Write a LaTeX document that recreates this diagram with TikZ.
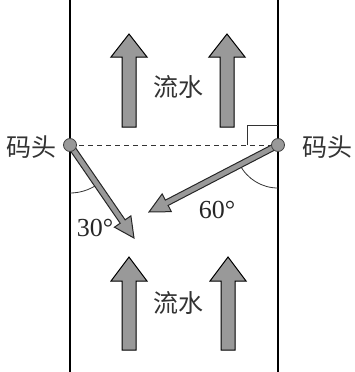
\documentclass[tikz,border=0pt]{standalone}
\usepackage{fontspec}
\setmainfont{Liberation Serif}
\newfontfamily\cjk{Noto Sans CJK SC}
\usetikzlibrary{calc}
\tikzset{
  bank/.style={line width=1.8pt, black},
  dock/.style={circle, draw=black!75, fill=black!40, line width=0.8pt, minimum size=13pt, inner sep=0pt},
  flowarrow/.style={fill=black!40, draw=black, line width=1pt, line join=miter},
  boatarrow/.style={fill=black!40, draw=black!85, line width=1pt, line join=miter},
  cnlabel/.style={font=\cjk\fontsize{25}{25}\selectfont, text=black!80, inner sep=0pt},
  anglabel/.style={font=\fontsize{26}{26}\selectfont, text=black!85, inner sep=0pt},
  anglearc/.style={line width=0.8pt, black!80},
}
% block arrow from #1 (tail) to #2 (tip): shaft half width #3, head half width #4, head length #5
\newcommand{\blockarr}[6]{%
  \coordinate (hb) at ($(#2)!#5!(#1)$);
  \path[#6] ($(#1)!#3!90:(#2)$) -- ($(hb)!#3!90:(#2)$) -- ($(hb)!#4!90:(#2)$) -- (#2)
     -- ($(hb)!#4!-90:(#2)$) -- ($(hb)!#3!-90:(#2)$) -- ($(#1)!#3!-90:(#2)$) -- cycle;
}
\begin{document}
\begin{tikzpicture}[x=1pt,y=-1pt]
\useasboundingbox (0,0) rectangle (355,372);
% banks
\coordinate (lt) at (70,0); \coordinate (lb) at (70,372);
\coordinate (rt) at (278,0); \coordinate (rb) at (278,372);
\draw[bank] (lt) -- (lb);
\draw[bank] (rt) -- (rb);
% flow arrows
\coordinate (u1t) at (129,127); \coordinate (u1h) at (129,34);
\coordinate (u2t) at (227,127); \coordinate (u2h) at (227,34);
\coordinate (d1t) at (129,350); \coordinate (d1h) at (129,257);
\coordinate (d2t) at (228,350); \coordinate (d2h) at (228,257);
\blockarr{u1t}{u1h}{7pt}{18pt}{23pt}{flowarrow}
\blockarr{u2t}{u2h}{7pt}{18pt}{23pt}{flowarrow}
\blockarr{d1t}{d1h}{7pt}{18pt}{24pt}{flowarrow}
\blockarr{d2t}{d2h}{7pt}{18pt}{24pt}{flowarrow}
\node[cnlabel] (flowtop) at (178,87) {流水};
\node[cnlabel] (flowbot) at (178,303) {流水};
% dashed line and right angle mark
\coordinate (L) at (70,145);
\coordinate (R) at (278,145);
\draw[dashed, dash pattern=on 5pt off 4pt, line width=0.9pt, black!80] (L) -- (R);
\coordinate (ra1) at (247,145); \coordinate (ra2) at (247,125); \coordinate (ra3) at (278,125);
\draw[line width=0.9pt, black!80] (ra1) -- (ra2) -- (ra3);
% angle arcs
\draw[anglearc] ($(L)+(0,48)$) arc[start angle=-90, end angle=-55.5, radius=48pt];
\draw[anglearc] ($(R)+(0,43)$) arc[start angle=-90, end angle=-152.6, radius=43pt];
% boat arrows
\coordinate (LT) at (134,238);
\coordinate (RT) at (149,212);
\blockarr{L}{LT}{3pt}{10pt}{20pt}{boatarrow}
\blockarr{R}{RT}{3pt}{10pt}{20pt}{boatarrow}
% docks
\node[dock] (ldock) at (L) {};
\node[dock] (rdock) at (R) {};
\node[cnlabel] (lname) at (31,147) {码头};
\node[cnlabel] (rname) at (327,147) {码头};
\node[anglabel] (a30) at (95,228) {30°};
\node[anglabel] (a60) at (217,210) {60°};
\end{tikzpicture}
\end{document}
